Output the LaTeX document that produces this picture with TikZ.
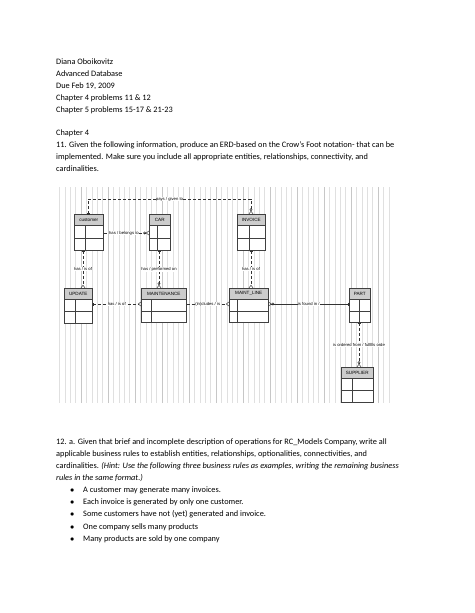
\documentclass[tikz,border=0pt]{standalone}
\usepackage{fontspec}
\setmainfont{Carlito}
\newfontfamily\lblf{Liberation Sans}
\usetikzlibrary{arrows.meta,calc}
\tikzset{
  bb/.tip={Bar[width=3pt]Bar[width=3pt]},
  cf/.tip={Circle[open,length=2.6pt]Straight Barb[reversed,length=2.5pt,width=4pt]},
  one/.tip={Bar[width=3pt]},
  crow/.tip={Straight Barb[reversed,length=2.5pt,width=4pt]}
}
\begin{document}
\begin{tikzpicture}[x=1pt,y=-1pt,
  txt/.style={anchor=base west,inner sep=0pt,font=\fontsize{8.3}{10}\selectfont},
  ent/.style={draw=black!75,line width=0.5pt,fill=white,inner sep=0pt,anchor=north west},
  hdr/.style={draw=black!75,line width=0.5pt,fill=gray!40,inner sep=0pt,anchor=north west,font=\lblf\fontsize{4.6}{5}\selectfont},
  lbl/.style={fill=white,inner sep=0.3pt,font=\lblf\fontsize{4.2}{5}\selectfont},
  rel/.style={draw=black!80,line width=0.45pt,densely dashed},
  relS/.style={draw=black!80,line width=0.45pt}
]
\useasboundingbox (0,0) rectangle (474,613);
% text
\node[txt] (t1) at (56,64) {Diana Oboikovitz};
\node[txt] (t2) at (56,76) {Advanced Database};
\node[txt] (t3) at (56,88) {Due Feb 19, 2009};
\node[txt] (t4) at (56,100) {Chapter 4 problems 11 \& 12};
\node[txt] (t5) at (56,112) {Chapter 5 problems 15-17 \& 21-23};
\node[txt] (t6) at (56,135) {Chapter 4};
\node[txt] (t7) at (56,147) {11. Given the following information, produce an ERD-based on the Crow's Foot notation- that can be};
\node[txt] (t8) at (56,159) {implemented. Make sure you include all appropriate entities, relationships, connectivity, and};
\node[txt] (t9) at (56,171) {cardinalities.};
\node[txt] (b1) at (56,444) {12. a. Given that brief and incomplete description of operations for RC\_Models Company, write all};
\node[txt] (b2) at (56,456) {applicable business rules to establish entities, relationships, optionalities, connectivities, and};
\node[txt] (b3) at (56,468) {cardinalities. \textit{(Hint: Use the following three business rules as examples, writing the remaining business}};
\node[txt] (b4) at (56,480) {\textit{rules in the same format.)}};
\foreach \y/\s [count=\i] in {492/A customer may generate many invoices.,504/Each invoice is generated by only one customer.,516/Some customers have not (yet) generated and invoice.,529/One company sells many products,541/Many products are sold by one company}{
  \node[txt] (bl\i) at (70,\y) {$\bullet$};
  \node[txt] (bt\i) at (83,\y) {\s};
}
% grid
\draw[black!12,line width=0.3pt] (57,187) grid[step=5.4] (392,403);
\draw[black!22,line width=0.35pt] (57,187) grid[step=27] (392,403);
% entities
\foreach \n/\t/\x/\y/\w/\h/\vs in {cust/customer/74/214/29/36/11, car/CAR/149/214/21/36/8, inv/INVOICE/237/214/28/36/12, upd/UPDATE/64/288/28/35/11, mnt/MAINTENANCE/141/288/45/34/10, ml/MAINT\_LINE/229/288/39/34/8, part/PART/349/288/21/34/10, sup/SUPPLIER/341/367/32/35/11}{
  \node[ent,minimum width=\w pt,minimum height=\h pt] (\n) at (\x,\y) {};
  \node[hdr,minimum width=\w pt,minimum height=11pt] (\n h) at (\x,\y) {\t};
  \draw[black!75,line width=0.5pt] ($(\n h.south west)+(\vs,0)$) -- ($(\n.south west)+(\vs,0)$);
  \draw[black!75,line width=0.5pt] ($(\n h.south west)!0.5!(\n.south west)$) -- ($(\n h.south east)!0.5!(\n.south east)$);
}
% connectors
\coordinate (p1) at (88,199);
\coordinate (p2) at (251,199);
\draw[rel,bb-cf] ($(cust.north west)+(14,0)$) -- (p1) -- node[lbl]{pays / given to} (p2) -- ($(inv.north west)+(14,0)$);
\draw[rel,-cf] ($(cust.north east)+(0,19)$) -- node[lbl,pos=0.45]{has / belongs to} ($(car.north west)+(0,19)$);
\draw[rel,bb-crow] ($(cust.south west)+(9,0)$) -- node[lbl]{has / is of} ($(upd.north west)+(19,0)$);
\draw[rel,one-cf] ($(car.south west)+(10,0)$) -- node[lbl]{has / preformed on} ($(mnt.north west)+(18,0)$);
\draw[rel,bb-crow] ($(inv.south west)+(14,0)$) -- node[lbl]{has / is of} ($(ml.north west)+(22,0)$);
\draw[rel,one-crow] ($(upd.north east)+(0,16)$) -- node[lbl]{has / is of} ($(mnt.north west)+(0,16)$);
\draw[rel,-crow] ($(mnt.north east)+(0,16)$) -- node[lbl]{(in)cludes / is} ($(ml.north west)+(0,16)$);
\draw[relS,cf-bb] ($(ml.north east)+(0,16)$) -- node[lbl]{is found in /} ($(part.north west)+(0,16)$);
\draw[rel,bb-cf] ($(part.south west)+(10,0)$) -- node[lbl,pos=0.5]{is ordered from / fulfills orde} ($(sup.north west)+(18,0)$);
\end{tikzpicture}
\end{document}
